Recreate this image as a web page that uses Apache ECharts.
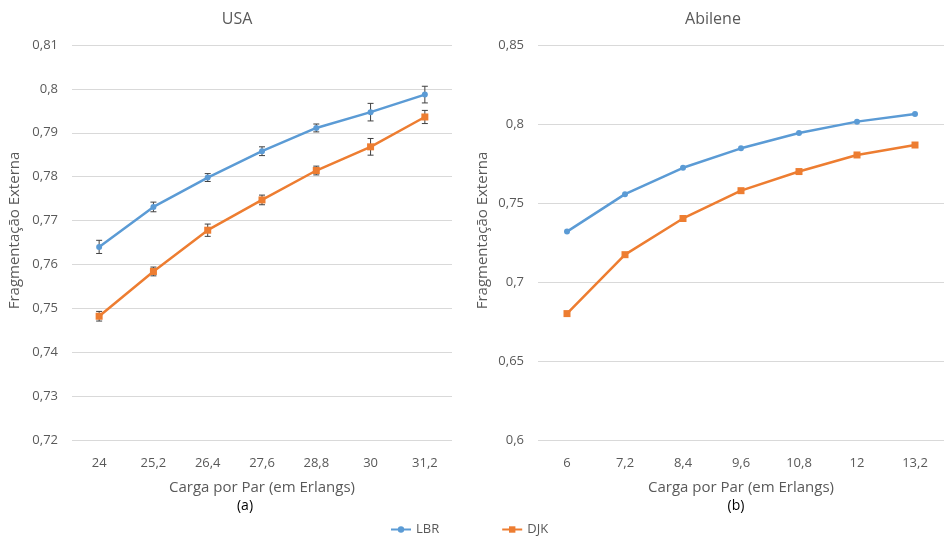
<!DOCTYPE html>
<html>
<head>
<meta charset="utf-8">
<script src="https://cdn.jsdelivr.net/npm/echarts@6/dist/echarts.min.js"></script>
<style>
  html, body { margin: 0; padding: 0; background: #fff; }
  #chart { width: 944px; height: 539px; }
</style>
</head>
<body>
<div id="chart"></div>
<script>
// Load per pair (Erlangs), USA topology
const usaLoads = ['24', '25,2', '26,4', '27,6', '28,8', '30', '31,2'];
const usaLBR = [0.7640, 0.7731, 0.7798, 0.7858, 0.7911, 0.7947, 0.7987];
const usaLBRErr = [0.0015, 0.0011, 0.0009, 0.0010, 0.0009, 0.0020, 0.0019];
const usaDJK = [0.7482, 0.7584, 0.7678, 0.7747, 0.7814, 0.7868, 0.7936];
const usaDJKErr = [0.0011, 0.0010, 0.0014, 0.0011, 0.0010, 0.0019, 0.0015];

// Load per pair (Erlangs), Abilene topology
const abiLoads = ['6', '7,2', '8,4', '9,6', '10,8', '12', '13,2'];
const abiLBR = [0.7319, 0.7556, 0.7723, 0.7846, 0.7943, 0.8015, 0.8063];
const abiDJK = [0.6800, 0.7173, 0.7402, 0.7578, 0.7699, 0.7804, 0.7867];

const BLUE = '#5B9BD5';
const ORANGE = '#ED7D31';
const TXT = '#595959';
const FONT = 'Open Sans';

const fmt = v => String(parseFloat(v.toFixed(2))).replace('.', ',');

function errSeries(xIdx, vals, errs, name) {
  return {
    type: 'custom',
    name: name,
    xAxisIndex: xIdx,
    yAxisIndex: xIdx,
    z: 2,
    silent: true,
    data: vals.map((v, i) => [i, v - errs[i], v + errs[i]]),
    renderItem: function (params, api) {
      const lo = api.coord([api.value(0), api.value(1)]);
      const hi = api.coord([api.value(0), api.value(2)]);
      const cap = 3;
      const style = { stroke: '#404040', lineWidth: 1 };
      return {
        type: 'group',
        children: [
          { type: 'line', shape: { x1: lo[0], y1: lo[1], x2: hi[0], y2: hi[1] }, style: style },
          { type: 'line', shape: { x1: lo[0] - cap, y1: lo[1], x2: lo[0] + cap, y2: lo[1] }, style: style },
          { type: 'line', shape: { x1: hi[0] - cap, y1: hi[1], x2: hi[0] + cap, y2: hi[1] }, style: style }
        ]
      };
    }
  };
}

function lineSeries(xIdx, name, vals, color, symbol, size) {
  return {
    type: 'line',
    name: name,
    xAxisIndex: xIdx,
    yAxisIndex: xIdx,
    data: vals,
    symbol: symbol,
    symbolSize: size,
    showSymbol: true,
    lineStyle: { color: color, width: 2.5 },
    itemStyle: { color: color },
    z: 3
  };
}

const chart = echarts.init(document.getElementById('chart'), null, { renderer: 'canvas' });

const yAxisCommon = {
  type: 'value',
  axisLine: { show: false },
  axisTick: { show: false },
  splitLine: { lineStyle: { color: '#D9D9D9', width: 1 } },
  axisLabel: { color: TXT, fontFamily: FONT, fontSize: 13, margin: 14, formatter: fmt },
  nameLocation: 'middle',
  nameRotate: 90,
  nameTextStyle: { color: TXT, fontFamily: FONT, fontSize: 15, padding: [0, 0, 0, 24] }
};
const xAxisCommon = {
  type: 'category',
  boundaryGap: true,
  axisLine: { show: false },
  axisTick: { show: false },
  axisLabel: { color: TXT, fontFamily: FONT, fontSize: 13, margin: 17 },
  nameLocation: 'middle',
  nameGap: 40,
  nameTextStyle: { color: TXT, fontFamily: FONT, fontSize: 15 }
};

chart.setOption({
  animation: false,
  backgroundColor: '#fff',
  title: [
    { text: 'USA', left: 232, top: 6, textAlign: 'center',
      textStyle: { color: TXT, fontFamily: FONT, fontSize: 16, fontWeight: 'normal' } },
    { text: 'Abilene', left: 708, top: 6, textAlign: 'center',
      textStyle: { color: TXT, fontFamily: FONT, fontSize: 16, fontWeight: 'normal' } },
    { text: '(a)', left: 240, top: 494, textAlign: 'center',
      textStyle: { color: '#000', fontFamily: FONT, fontSize: 14, fontWeight: 'normal' } },
    { text: '(b)', left: 731, top: 494, textAlign: 'center',
      textStyle: { color: '#000', fontFamily: FONT, fontSize: 14, fontWeight: 'normal' } }
  ],
  legend: {
    data: ['LBR', 'DJK'],
    left: 385,
    top: 518,
    itemGap: 62,
    itemWidth: 20,
    itemHeight: 8,
    textStyle: { color: TXT, fontFamily: FONT, fontSize: 13 }
  },
  grid: [
    { left: 72, width: 380, top: 45, bottom: 99 },
    { left: 538, width: 409, top: 45, bottom: 99 }
  ],
  xAxis: [
    Object.assign({}, xAxisCommon, { gridIndex: 0, data: usaLoads, name: 'Carga por Par (em Erlangs)' }),
    Object.assign({}, xAxisCommon, { gridIndex: 1, data: abiLoads, name: 'Carga por Par (em Erlangs)' })
  ],
  yAxis: [
    Object.assign({}, yAxisCommon, { gridIndex: 0, min: 0.72, max: 0.81, interval: 0.01,
      name: 'Fragmentação Externa', nameGap: 50 }),
    Object.assign({}, yAxisCommon, { gridIndex: 1, min: 0.6, max: 0.85, interval: 0.05,
      name: 'Fragmentação Externa', nameGap: 48 })
  ],
  series: [
    lineSeries(0, 'LBR', usaLBR, BLUE, 'circle', 6),
    lineSeries(0, 'DJK', usaDJK, ORANGE, 'rect', 7),
    errSeries(0, usaLBR, usaLBRErr, 'LBR-err'),
    errSeries(0, usaDJK, usaDJKErr, 'DJK-err'),
    lineSeries(1, 'LBR', abiLBR, BLUE, 'circle', 6),
    lineSeries(1, 'DJK', abiDJK, ORANGE, 'rect', 7)
  ]
});
</script>
</body>
</html>
